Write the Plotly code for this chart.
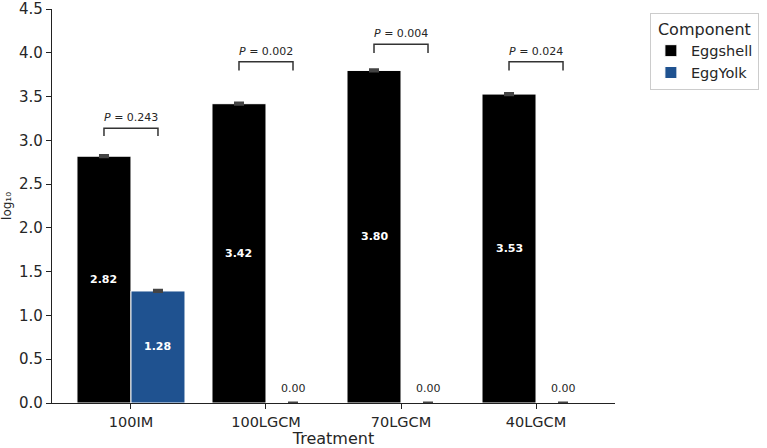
import plotly.graph_objects as go

categories = ["100IM", "100LGCM", "70LGCM", "40LGCM"]
eggshell = [2.82, 3.42, 3.80, 3.53]
eggyolk = [1.28, 0.00, 0.00, 0.00]
eggshell_err = [0.01, 0.01, 0.01, 0.01]
eggyolk_err = [0.01, 0.004, 0.004, 0.004]
p_values = ["0.243", "0.002", "0.004", "0.024"]
bracket_low = [3.05, 3.80, 4.00, 3.80]
bracket_high = [3.14, 3.90, 4.10, 3.90]
y_ticks = [0.0, 0.5, 1.0, 1.5, 2.0, 2.5, 3.0, 3.5, 4.0, 4.5]

FONT = "DejaVu Sans"
TXT = "#262626"
BLUE = "#1f5290"
OFF = 0.2  # half of dodge offset (bar width 0.4)

fig = go.Figure()
xs = list(range(len(categories)))
fig.add_trace(go.Bar(
    x=xs, y=eggshell, name="Eggshell", marker=dict(color="#000000", line=dict(color="white", width=1)),
    error_y=dict(type="data", array=eggshell_err, color="#444444", thickness=2.5, width=5),
))
fig.add_trace(go.Bar(
    x=xs, y=eggyolk, name="EggYolk", marker=dict(color=BLUE, line=dict(color="white", width=1)),
    error_y=dict(type="data", array=eggyolk_err, color="#444444", thickness=2.5, width=5),
))

# value labels
for i in xs:
    for val, dx in ((eggshell[i], -OFF), (eggyolk[i], OFF)):
        if val > 0:
            fig.add_annotation(x=i + dx, y=val / 2, text=f"<b>{val:.2f}</b>", showarrow=False,
                               font=dict(family=FONT, size=11, color="white"))
        else:
            fig.add_annotation(x=i + dx, y=val, text=f"{val:.2f}", showarrow=False, yanchor="bottom",
                               yshift=6, font=dict(family=FONT, size=11, color=TXT))

# significance brackets
for i in xs:
    x0, x1 = i - OFF, i + OFF
    lo, hi = bracket_low[i], bracket_high[i]
    fig.add_shape(type="path", path=f"M {x0},{lo} L {x0},{hi} L {x1},{hi} L {x1},{lo}",
                  line=dict(color="#333333", width=1.5), xref="x", yref="y")
    fig.add_annotation(x=i, y=hi, text=f"<i>P</i> = {p_values[i]}", showarrow=False, yanchor="bottom",
                       yshift=2, font=dict(family=FONT, size=11, color=TXT))

fig.update_layout(
    width=767, height=448,
    margin=dict(l=52, r=152, t=9, b=45, autoexpand=False),
    paper_bgcolor="white", plot_bgcolor="white",
    barmode="group", bargap=0.2, bargroupgap=0,
    font=dict(family=FONT, color=TXT),
    showlegend=True,
    legend=dict(
        title=dict(text="Component", side="top center", font=dict(family=FONT, size=16, color=TXT)),
        font=dict(family=FONT, size=14.5, color=TXT),
        x=1.062, y=0.99, xanchor="left", yanchor="top",
        bordercolor="#cccccc", borderwidth=1, bgcolor="white",
        itemwidth=30, tracegroupgap=2,
    ),
    xaxis=dict(
        tickmode="array", tickvals=xs, ticktext=categories,
        range=[-0.585, 3.585], showgrid=False, zeroline=False, automargin=False,
        showline=True, linecolor="#222222", linewidth=1.25,
        ticks="outside", ticklen=5, tickcolor="#222222", tickwidth=1.25,
        tickfont=dict(family=FONT, size=14.5, color=TXT),
        title=dict(text="Treatment", font=dict(family=FONT, size=16, color=TXT), standoff=0),
    ),
    yaxis=dict(
        range=[0, 4.502], tickmode="array", tickvals=y_ticks, ticktext=[f"{t:.1f}" for t in y_ticks],
        showgrid=False, zeroline=False, ticklabeloverflow="allow", automargin=False,
        showline=True, linecolor="#222222", linewidth=1.25,
        ticks="outside", ticklen=5, tickcolor="#222222", tickwidth=1.25,
        tickfont=dict(family=FONT, size=15, color=TXT),
        title=dict(text="log₁₀", font=dict(family=FONT, size=12, color=TXT), standoff=4),
    ),
)

fig.write_html("out.html")
